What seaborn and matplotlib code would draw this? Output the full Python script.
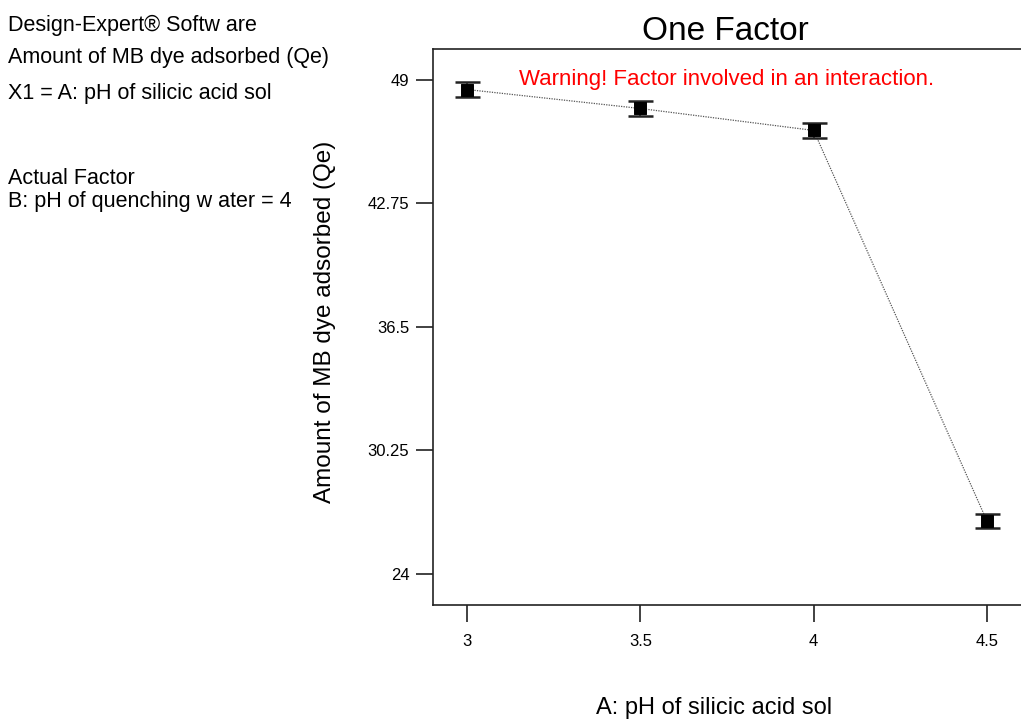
import matplotlib
matplotlib.use("Agg")
import matplotlib.pyplot as plt
import seaborn as sns
import pandas as pd

# Factor A levels and predicted response with its error half-width
ph_levels = [3.0, 3.5, 4.0, 4.5]
qe_values = [48.51, 47.55, 46.44, 26.67]
qe_error = [0.36, 0.36, 0.36, 0.36]
y_ticks = [24, 30.25, 36.5, 42.75, 49]
y_tick_labels = ["24", "30.25", "36.5", "42.75", "49"]
x_ticks = [3, 3.5, 4, 4.5]
x_tick_labels = ["3", "3.5", "4", "4.5"]

info_lines = [
    "Design-Expert® Softw are",
    "Amount of MB dye adsorbed (Qe)",
    "X1 = A: pH of silicic acid sol",
    "Actual Factor",
    "B: pH of quenching w ater = 4",
]

sns.set_style("white")
plt.rcParams["font.family"] = ["Liberation Sans", "DejaVu Sans"]
plt.rcParams["text.color"] = "black"

W, H = 1021, 721
fig = plt.figure(figsize=(W / 100, H / 100), dpi=100)

def px(x, y):
    return x / W, 1 - y / H

left, top, bottom, right = 433, 49, 605, 1021
ax = fig.add_axes([left / W, 1 - bottom / H, (right - left) / W, (bottom - top) / H])

df = pd.DataFrame({"A": ph_levels, "Qe": qe_values})

sns.lineplot(data=df, x="A", y="Qe", ax=ax, color="#555555", linewidth=0.9,
             linestyle=(0, (1, 1)), zorder=2)
ax.errorbar(ph_levels, qe_values, yerr=qe_error, fmt="none", ecolor="#222222",
            elinewidth=1.2, capsize=9, capthick=1.8, zorder=3)
sns.scatterplot(data=df, x="A", y="Qe", ax=ax, marker="s", s=75, color="black",
                edgecolor="black", zorder=4)

ax.set_xlim(2.902, 4.598)
ax.set_ylim(22.43, 50.56)
ax.set_xticks(x_ticks)
ax.set_xticklabels(x_tick_labels)
ax.set_yticks(y_ticks)
ax.set_yticklabels(y_tick_labels)
ax.set_xlabel("")
ax.set_ylabel("")
ax.tick_params(axis="both", direction="out", length=12, width=1.3, color="#333333",
               labelsize=12, labelcolor="black", left=True, bottom=True)
ax.tick_params(axis="x", pad=9)
ax.tick_params(axis="y", pad=5)

for side in ["left", "bottom", "top"]:
    ax.spines[side].set_color("#222222")
    ax.spines[side].set_linewidth(1.2)
ax.spines["right"].set_visible(False)

ax.text(0.5, 0.946, "Warning! Factor involved in an interaction.", transform=ax.transAxes,
        ha="center", va="center", color="#ff0000", fontsize=16)

fig.text(*px(725, 32), "One Factor", ha="center", va="center", fontsize=24)
fig.text(*px(325, 322), "Amount of MB dye adsorbed (Qe)", rotation=90,
         ha="center", va="center", fontsize=17.5)
fig.text(*px(714, 708), "A: pH of silicic acid sol", ha="center", va="center", fontsize=17)

for txt, y in zip(info_lines, [25, 57, 94, 178, 201]):
    fig.text(*px(8, y), txt, ha="left", va="center", fontsize=15.5)

fig.savefig("out.png", dpi=100)
